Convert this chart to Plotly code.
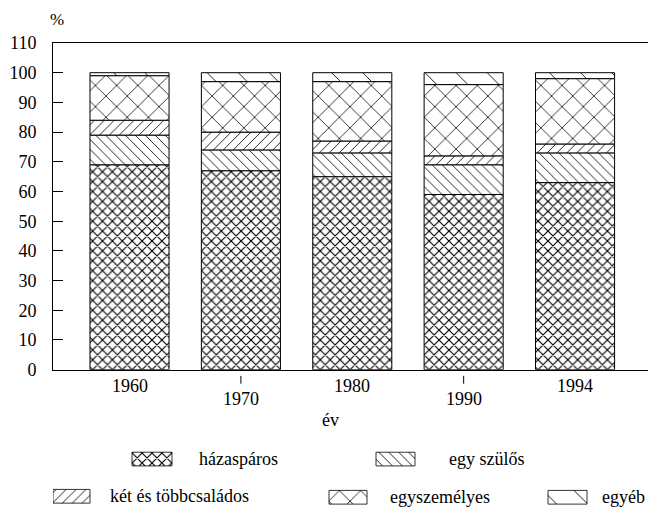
import numpy as np
import plotly.graph_objects as go

# ---- data ----
years = ["1960", "1970", "1980", "1990", "1994"]
series_names = ["házaspáros", "egy szülős", "két és többcsaládos", "egyszemélyes", "egyéb"]
hazasparos = [69, 67, 65, 59, 63]
egy_szulos = [10, 7, 8, 10, 10]
ket_tobb = [5, 6, 4, 3, 3]
egyszemelyes = [15, 17, 20, 24, 22]
egyeb = [1, 3, 3, 4, 2]
y_ticks = list(range(0, 111, 10))

series_values = [hazasparos, egy_szulos, ket_tobb, egyszemelyes, egyeb]

# ---- styles ----
FONT = "Liberation Serif, Times New Roman, serif"
patterns = [
    dict(shape="x", size=7, solidity=0.3),
    dict(shape="\\", size=7, solidity=0.12),
    dict(shape="/", size=7, solidity=0.12),
    dict(shape="x", size=15, solidity=0.1),
    dict(shape="\\", size=22, solidity=0.04),
]
# legend layout (pixel coordinates in the lower area): swatch x0, x1, y center, text x
legend_pos = [
    (132, 172, 468, 197),
    (376, 415, 468, 447),
    (53, 90, 506, 108),
    (329, 367, 507, 388),
    (548, 587, 507, 600),
]
SW_H = 14

W, H = 648, 519
ML, MT = 53, 43
plot_h = H - MT
y0_pix = 376.7
dom_bottom = (H - y0_pix) / plot_h
low_dom_top = 0.29
low_top_pix = H - low_dom_top * plot_h

fig = go.Figure()

base = np.zeros(len(years))
for name, vals, pat in zip(series_names, series_values, patterns):
    vals = np.array(vals, dtype=float)
    fig.add_trace(go.Bar(
        x=list(range(len(years))), y=vals, base=base.copy(), name=name,
        marker=dict(color="white",
                    line=dict(color="black", width=1),
                    pattern=dict(fgcolor="black", bgcolor="white", fillmode="replace", **pat)),
        showlegend=False, hoverinfo="skip",
    ))
    base += vals

# legend swatches in the lower area
for name, pat, (x0, x1, cy, tx) in zip(series_names, patterns, legend_pos):
    fig.add_trace(go.Bar(
        orientation="h", y=[cy], x=[x1 - x0], base=[x0], width=[SW_H],
        marker=dict(color="white", line=dict(color="black", width=0.8),
                    pattern=dict(fgcolor="black", bgcolor="white", fillmode="replace", **pat)),
        xaxis="x2", yaxis="y2", showlegend=False, hoverinfo="skip",
    ))
    fig.add_annotation(x=tx, y=cy, xref="x2", yref="y2", text=name, showarrow=False,
                       xanchor="left", yanchor="middle", font=dict(family=FONT, size=18, color="black"))

# staggered year labels and small ticks
for i, yr in enumerate(years):
    ly = 393 if i % 2 == 0 else 406.5
    fig.add_annotation(x=i, y=ly, xref="x", yref="y2", text=yr, showarrow=False,
                       xanchor="center", yanchor="middle", font=dict(family=FONT, size=18, color="black"))
    if i % 2 == 1:
        fig.add_shape(type="line", x0=i, x1=i, y0=383, y1=391, xref="x", yref="y2",
                      line=dict(color="black", width=1))

fig.add_annotation(x=330, y=428, xref="x2", yref="y2", text="év", showarrow=False,
                   xanchor="center", yanchor="middle", font=dict(family=FONT, size=18, color="black"))
fig.add_annotation(x=(57 - ML) / (W - ML), y=(H - 19) / plot_h, xref="paper", yref="paper",
                   text="%", showarrow=False, xanchor="center", yanchor="middle",
                   font=dict(family=FONT, size=17, color="black"))

fig.update_layout(
    width=W, height=H,
    margin=dict(l=ML, r=0, t=MT, b=0),
    paper_bgcolor="white", plot_bgcolor="white",
    barmode="overlay", bargap=0.29,
    font=dict(family=FONT, size=18, color="black"),
    xaxis=dict(type="linear", range=[-0.687, 4.655], domain=[0, 1], showticklabels=False,
               ticks="", showgrid=False, zeroline=False, showline=True, linecolor="black",
               linewidth=1, mirror=True, anchor="y"),
    yaxis=dict(range=[0, 110], domain=[dom_bottom, 1], tickvals=y_ticks, ticks="inside",
               ticklen=10, tickcolor="black", showgrid=False, zeroline=False, showline=True,
               linecolor="black", linewidth=1, ticklabelstandoff=12,
               tickfont=dict(family=FONT, size=18, color="black"), anchor="x"),
    xaxis2=dict(range=[ML, W], domain=[0, 1], visible=False, anchor="y2", fixedrange=True),
    yaxis2=dict(range=[H, low_top_pix], domain=[0, low_dom_top], visible=False, anchor="x2",
                fixedrange=True),
)

fig.write_html("out.html", config={"displayModeBar": False},
               post_script="document.body.style.margin='0';")
